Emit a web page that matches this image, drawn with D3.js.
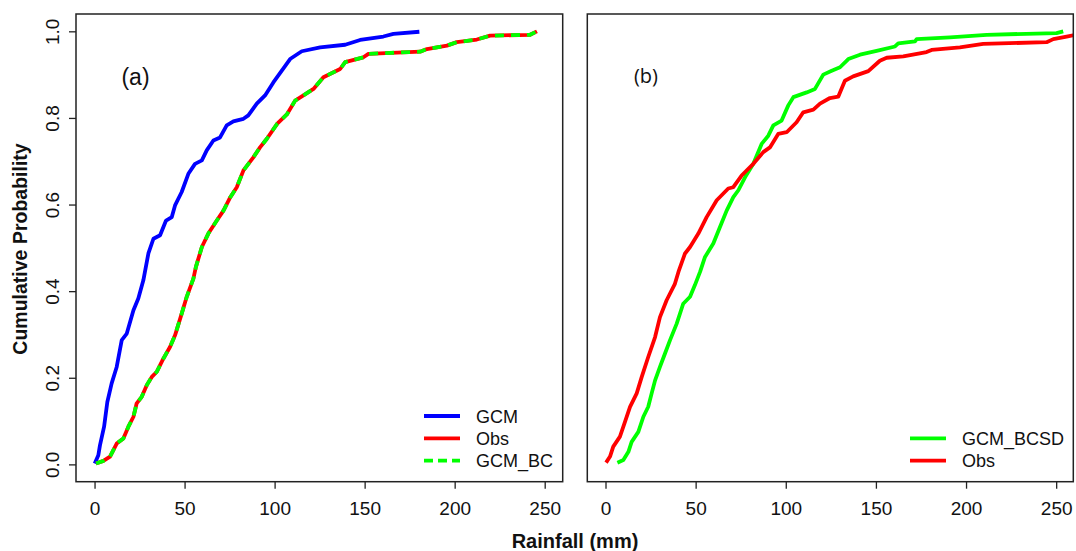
<!DOCTYPE html>
<html>
<head>
<meta charset="utf-8">
<title>Cumulative probability of rainfall</title>
<script src="https://d3js.org/d3.v7.min.js"></script>
<style>
  body { margin: 0; background: #fff; }
  text { font-family: "Liberation Sans", Arial, sans-serif; fill: #111; }
</style>
</head>
<body>
<div id="chart"></div>
<script>
// values: [rainfall mm, cumulative probability]
const gcmA = [[0.1,0.002],[2.1,0.021],[3,0.044],[5.3,0.087],[7.1,0.144],[9.5,0.187],[12.3,0.225],[15.1,0.287],[17.9,0.302],[21.6,0.356],[24.3,0.383],[27.1,0.425],[29.9,0.487],[32.7,0.521],[36.4,0.529],[39.7,0.563],[42.9,0.571],[44.7,0.598],[48.4,0.629],[52.1,0.671],[55.8,0.694],[59.6,0.702],[62.3,0.725],[66,0.748],[69.7,0.755],[73.4,0.783],[77.1,0.792],[82.7,0.798],[85.4,0.806],[90.1,0.833],[94.7,0.852],[99.3,0.882],[104.5,0.912],[108.6,0.936],[115.1,0.954],[125.3,0.963],[139.2,0.969],[147.5,0.98],[160.4,0.988],[166,0.994],[180.4,0.999]];
const obsA = [[0.8,0.002],[4.9,0.008],[8.6,0.018],[12.3,0.048],[16,0.06],[18.8,0.087],[21.6,0.11],[23.4,0.141],[26.2,0.156],[29,0.183],[31.8,0.202],[34.6,0.214],[38.2,0.244],[41.9,0.271],[44.7,0.298],[48.4,0.348],[51.2,0.387],[54.9,0.429],[56.3,0.456],[59.6,0.502],[63.2,0.533],[67.9,0.563],[71.6,0.586],[75.4,0.617],[79,0.64],[82.7,0.679],[88.2,0.709],[91.9,0.732],[95.7,0.752],[101.5,0.787],[106.8,0.808],[111.4,0.84],[116,0.852],[121.6,0.867],[127.1,0.894],[136.4,0.913],[139.2,0.929],[149.3,0.94],[152.1,0.948],[180.8,0.953],[184.6,0.959],[195.7,0.967],[201.2,0.975],[212.3,0.981],[219.7,0.99],[241.9,0.992],[245.7,1.0]];
// GCM_BC lies exactly on Obs in panel (a)
const gcmBcA = obsA;

const bcsdB = [[6.6,0.004],[9.9,0.01],[12.7,0.029],[14.5,0.052],[18.2,0.075],[21,0.11],[23.7,0.133],[25.6,0.164],[27.5,0.194],[30.2,0.225],[33,0.256],[35.8,0.287],[39.5,0.325],[43.1,0.371],[46.9,0.387],[49.6,0.414],[52.5,0.445],[55.2,0.479],[59.8,0.51],[63.5,0.548],[67.2,0.586],[70.9,0.617],[73.7,0.633],[77.4,0.663],[82,0.694],[86.6,0.74],[90.3,0.759],[93.1,0.783],[97.7,0.794],[101.4,0.829],[104.2,0.848],[111.6,0.859],[116.2,0.867],[120.8,0.9],[125.5,0.909],[130.1,0.917],[134.7,0.936],[141.2,0.946],[150.4,0.955],[160.6,0.965],[162.4,0.972],[171.7,0.977],[172.6,0.982],[191.1,0.986],[211.4,0.992],[250.2,0.996],[253.9,1.0]];
const obsB = [[0.3,0.004],[2.5,0.018],[4.3,0.041],[8,0.064],[10.8,0.098],[13.6,0.133],[17.3,0.164],[20.1,0.202],[23.7,0.248],[27.5,0.294],[30.2,0.34],[33.9,0.379],[38.5,0.417],[40.5,0.445],[44.1,0.487],[46.9,0.502],[51.5,0.533],[56.1,0.571],[61.7,0.61],[68.1,0.637],[70.9,0.64],[75.5,0.667],[82,0.694],[87.5,0.721],[91.2,0.732],[95.8,0.763],[100.5,0.767],[106,0.79],[109.7,0.813],[115.3,0.819],[119,0.833],[124.5,0.846],[129.1,0.849],[132.8,0.886],[137.4,0.896],[145.8,0.908],[152.2,0.932],[156,0.939],[165.2,0.942],[178.1,0.952],[180.9,0.957],[196.6,0.963],[209.5,0.971],[244.7,0.975],[248.4,0.982],[255.8,0.988],[262,0.993]];

const xTicks = [0, 50, 100, 150, 200, 250];
const yTicks = [0, 0.2, 0.4, 0.6, 0.8, 1.0];

const W = 1076, H = 551;
const plotTop = 14, plotBottom = 481.7;

const svg = d3.select('#chart').append('svg')
  .attr('width', W).attr('height', H);

const y = d3.scaleLinear().domain([-0.04, 1.04]).range([plotBottom, plotTop]);

const panels = [
  { id: 'a', x0: 76, x1: 562.7, dom: [-10.3, 260], label: '(a)',
    series: [
      { data: gcmA, color: '#0000ff' },
      { data: obsA, color: '#ff0000' },
      { data: gcmBcA, color: '#00ff00', dash: '9,7' }
    ],
    legend: { x: 424, y0: 416, items: [
      { name: 'GCM', color: '#0000ff' },
      { name: 'Obs', color: '#ff0000' },
      { name: 'GCM_BC', color: '#00ff00', dash: '9,5' }
    ] },
    yAxis: true },
  { id: 'b', x0: 587.3, x1: 1073.3, dom: [-10.1, 259.5], label: '(b)',
    series: [
      { data: bcsdB, color: '#00ff00' },
      { data: obsB, color: '#ff0000' }
    ],
    legend: { x: 910, y0: 438.3, items: [
      { name: 'GCM_BCSD', color: '#00ff00' },
      { name: 'Obs', color: '#ff0000' }
    ] },
    yAxis: false }
];

panels.forEach(p => {
  const x = d3.scaleLinear().domain(p.dom).range([p.x0, p.x1]);
  const g = svg.append('g');

  g.append('clipPath').attr('id', 'clip-' + p.id)
    .append('rect')
    .attr('x', p.x0).attr('y', plotTop)
    .attr('width', p.x1 - p.x0).attr('height', plotBottom - plotTop);

  const line = d3.line().x(d => x(d[0])).y(d => y(d[1]));

  g.append('g').attr('clip-path', `url(#clip-${p.id})`)
    .selectAll('path')
    .data(p.series)
    .enter()
    .append('path')
    .attr('d', d => line(d.data))
    .attr('fill', 'none')
    .attr('stroke', d => d.color)
    .attr('stroke-width', 3.8)
    .attr('stroke-linejoin', 'round')
    .attr('stroke-dasharray', d => d.dash || null);

  // box
  g.append('rect')
    .attr('x', p.x0).attr('y', plotTop)
    .attr('width', p.x1 - p.x0).attr('height', plotBottom - plotTop)
    .attr('fill', 'none').attr('stroke', '#222').attr('stroke-width', 1.5);

  // x axis
  const xa = g.append('g')
    .attr('transform', `translate(0,${plotBottom})`)
    .call(d3.axisBottom(x).tickValues(xTicks).tickSize(7).tickFormat(d3.format('d')));
  xa.select('.domain').remove();
  xa.selectAll('line').attr('stroke', '#222').attr('stroke-width', 1.3);
  xa.selectAll('text')
    .attr('y', 33).attr('dy', null)
    .style('font-size', '19px').style('font-family', '"Liberation Sans", Arial, sans-serif')
    .attr('fill', '#111');

  if (p.yAxis) {
    const ya = g.append('g')
      .attr('transform', `translate(${p.x0},0)`)
      .call(d3.axisLeft(y).tickValues(yTicks).tickSize(7).tickFormat(d3.format('.1f')));
    ya.select('.domain').remove();
    ya.selectAll('line').attr('stroke', '#222').attr('stroke-width', 1.3);
    ya.selectAll('text')
      .attr('x', 0).attr('dy', null)
      .attr('transform', 'translate(-17.5,0) rotate(-90)')
      .attr('text-anchor', 'middle')
      .style('font-size', '19px').style('font-family', '"Liberation Sans", Arial, sans-serif')
      .attr('fill', '#111');
  }

  // panel label
  if (p.id === 'a') {
    g.append('text').attr('x', 135.5).attr('y', 85)
      .attr('text-anchor', 'middle').style('font-size', '23px').text(p.label);
  } else {
    g.append('text').attr('x', 646).attr('y', 83)
      .attr('text-anchor', 'middle')
      .style('font-family', '"Open Sans", sans-serif')
      .style('font-size', '20px').text(p.label);
  }

  // legend
  const lg = g.append('g');
  p.legend.items.forEach((it, i) => {
    const ly = p.legend.y0 + i * 22.3;
    lg.append('line')
      .attr('x1', p.legend.x).attr('x2', p.legend.x + 36)
      .attr('y1', ly).attr('y2', ly)
      .attr('stroke', it.color).attr('stroke-width', 3.8)
      .attr('stroke-dasharray', it.dash || null);
    lg.append('text')
      .attr('x', p.legend.x + 52).attr('y', ly + 6.5)
      .style('font-size', '18px').text(it.name);
  });
});

// axis titles
svg.append('text')
  .attr('transform', 'translate(26.5,249) rotate(-90)')
  .attr('text-anchor', 'middle')
  .style('font-size', '19.5px').style('font-weight', 'bold')
  .text('Cumulative Probability');

svg.append('text')
  .attr('x', 575).attr('y', 548)
  .attr('text-anchor', 'middle')
  .style('font-size', '20px').style('font-weight', 'bold')
  .text('Rainfall (mm)');
</script>
</body>
</html>
